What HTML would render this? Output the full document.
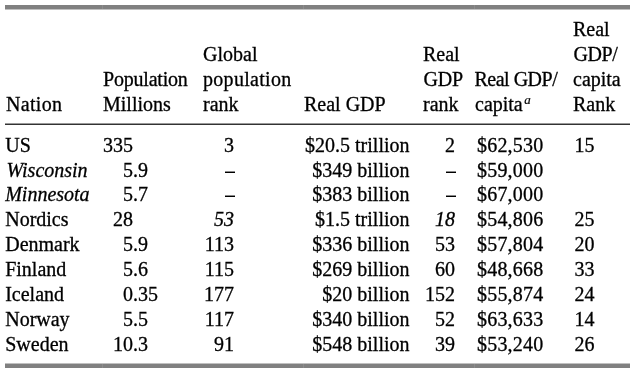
<!DOCTYPE html>
<html><head><meta charset="utf-8"><style>
html,body{margin:0;padding:0;background:#fff;}
body{width:635px;height:375px;position:relative;overflow:hidden;font-family:"Liberation Serif",serif;font-size:20px;color:#000;}
#t{position:absolute;left:0;top:0;width:635px;height:375px;will-change:transform;}
#t>div{position:absolute;line-height:20px;white-space:nowrap;-webkit-text-stroke:0.3px #000;}
.i{font-style:italic;}
sup{font-style:italic;font-size:13px;line-height:0;vertical-align:0;position:relative;top:-7px;left:1.5px;-webkit-text-stroke:0.2px #000;}
.r{position:absolute;left:5px;width:625px;}
</style></head><body>
<div class="r" style="top:5px;height:4px;background:#808080"></div>
<div class="r" style="top:9px;height:1px;background:#c0c0c0"></div>
<div class="r" style="top:123px;height:1px;background:#999"></div>
<div class="r" style="top:124px;height:1px;background:#333"></div>
<div class="r" style="top:363px;height:1px;background:#c0c0c0"></div>
<div class="r" style="top:364px;height:4px;background:#808080"></div>
<div style="position:absolute;left:102px;top:5px;width:1px;height:4px;background:#8c8c8c"></div>
<div style="position:absolute;left:303px;top:5px;width:1px;height:4px;background:#8c8c8c"></div>
<div style="position:absolute;left:474px;top:5px;width:1px;height:4px;background:#8c8c8c"></div>
<div style="position:absolute;left:102px;top:364px;width:1px;height:4px;background:#8c8c8c"></div>
<div style="position:absolute;left:303px;top:364px;width:1px;height:4px;background:#8c8c8c"></div>
<div style="position:absolute;left:474px;top:364px;width:1px;height:4px;background:#8c8c8c"></div>
<div style="position:absolute;left:225px;top:171px;width:10px;height:1px;background:#8a8a8a"></div><div style="position:absolute;left:225px;top:172px;width:10px;height:1px;background:#000"></div><div style="position:absolute;left:446px;top:171px;width:10px;height:1px;background:#8a8a8a"></div><div style="position:absolute;left:446px;top:172px;width:10px;height:1px;background:#000"></div><div style="position:absolute;left:225px;top:195px;width:10px;height:1px;background:#8a8a8a"></div><div style="position:absolute;left:225px;top:196px;width:10px;height:1px;background:#000"></div><div style="position:absolute;left:446px;top:195px;width:10px;height:1px;background:#8a8a8a"></div><div style="position:absolute;left:446px;top:196px;width:10px;height:1px;background:#000"></div>
<div id="t">
<div style="top:93.95px;left:6px;letter-spacing:0.3px;">Nation</div>
<div style="top:69.05px;left:103px;letter-spacing:-0.2px;">Population</div>
<div style="top:93.95px;left:103px;">Millions</div>
<div style="top:44.15px;left:203px;">Global</div>
<div style="top:69.05px;left:203px;letter-spacing:0.3px;">population</div>
<div style="top:93.95px;left:203px;">rank</div>
<div style="top:93.95px;left:304px;">Real GDP</div>
<div style="top:44.15px;left:423px;">Real</div>
<div style="top:69.05px;left:423.5px;letter-spacing:-0.2px;">GDP</div>
<div style="top:93.95px;left:423px;">rank</div>
<div style="top:69.05px;left:474.5px;letter-spacing:-0.5px;">Real GDP/</div>
<div style="top:93.95px;left:475px;">capita<sup>a</sup></div>
<div style="top:19.25px;left:573px;">Real</div>
<div style="top:44.15px;left:573.5px;letter-spacing:-0.4px;">GDP/</div>
<div style="top:69.05px;left:573px;">capita</div>
<div style="top:93.95px;left:573px;">Rank</div>
<div style="top:135.25px;left:5.2px;">US</div>
<div style="top:135.25px;right:502px;">335</div>
<div style="top:135.25px;right:401px;">3</div>
<div style="top:135.25px;right:225.5px;">$20.5 trillion</div>
<div style="top:135.25px;right:180px;">2</div>
<div style="top:135.25px;left:477px;letter-spacing:0.2px;">$62,530</div>
<div style="top:135.25px;left:574.5px;">15</div>
<div style="top:160.25px;left:6.5px;" class="i">Wisconsin</div>
<div style="top:160.25px;right:502px;">5</div>
<div style="top:160.25px;left:133px;">.9</div>
<div style="top:160.25px;right:225.5px;">$349 billion</div>
<div style="top:160.25px;left:477px;letter-spacing:0.2px;">$59,000</div>
<div style="top:184.25px;left:5.2px;" class="i">Minnesota</div>
<div style="top:184.25px;right:502px;">5</div>
<div style="top:184.25px;left:133px;">.7</div>
<div style="top:184.25px;right:225.5px;">$383 billion</div>
<div style="top:184.25px;left:477px;letter-spacing:0.2px;">$67,000</div>
<div style="top:209.25px;left:5.2px;">Nordics</div>
<div style="top:209.25px;right:502px;">28</div>
<div style="top:209.25px;right:401px;" class="i">53</div>
<div style="top:209.25px;right:225.5px;">$1.5 trillion</div>
<div style="top:209.25px;right:180px;" class="i">18</div>
<div style="top:209.25px;left:477px;letter-spacing:0.2px;">$54,806</div>
<div style="top:209.25px;left:574.5px;">25</div>
<div style="top:234.25px;left:5.2px;">Denmark</div>
<div style="top:234.25px;right:502px;">5</div>
<div style="top:234.25px;left:133px;">.9</div>
<div style="top:234.25px;right:401px;">113</div>
<div style="top:234.25px;right:225.5px;">$336 billion</div>
<div style="top:234.25px;right:180px;">53</div>
<div style="top:234.25px;left:477px;letter-spacing:0.2px;">$57,804</div>
<div style="top:234.25px;left:574.5px;">20</div>
<div style="top:259.25px;left:5.2px;">Finland</div>
<div style="top:259.25px;right:502px;">5</div>
<div style="top:259.25px;left:133px;">.6</div>
<div style="top:259.25px;right:401px;">115</div>
<div style="top:259.25px;right:225.5px;">$269 billion</div>
<div style="top:259.25px;right:180px;">60</div>
<div style="top:259.25px;left:477px;letter-spacing:0.2px;">$48,668</div>
<div style="top:259.25px;left:574.5px;">33</div>
<div style="top:284.25px;left:5.2px;">Iceland</div>
<div style="top:284.25px;right:502px;">0</div>
<div style="top:284.25px;left:133px;">.35</div>
<div style="top:284.25px;right:401px;">177</div>
<div style="top:284.25px;right:225.5px;">$20 billion</div>
<div style="top:284.25px;right:180px;">152</div>
<div style="top:284.25px;left:477px;letter-spacing:0.2px;">$55,874</div>
<div style="top:284.25px;left:574.5px;">24</div>
<div style="top:309.25px;left:5.2px;">Norway</div>
<div style="top:309.25px;right:502px;">5</div>
<div style="top:309.25px;left:133px;">.5</div>
<div style="top:309.25px;right:401px;">117</div>
<div style="top:309.25px;right:225.5px;">$340 billion</div>
<div style="top:309.25px;right:180px;">52</div>
<div style="top:309.25px;left:477px;letter-spacing:0.2px;">$63,633</div>
<div style="top:309.25px;left:574.5px;">14</div>
<div style="top:334.25px;left:5.2px;">Sweden</div>
<div style="top:334.25px;right:502px;">10</div>
<div style="top:334.25px;left:133px;">.3</div>
<div style="top:334.25px;right:401px;">91</div>
<div style="top:334.25px;right:225.5px;">$548 billion</div>
<div style="top:334.25px;right:180px;">39</div>
<div style="top:334.25px;left:477px;letter-spacing:0.2px;">$53,240</div>
<div style="top:334.25px;left:574.5px;">26</div>
</div>
</body></html>
